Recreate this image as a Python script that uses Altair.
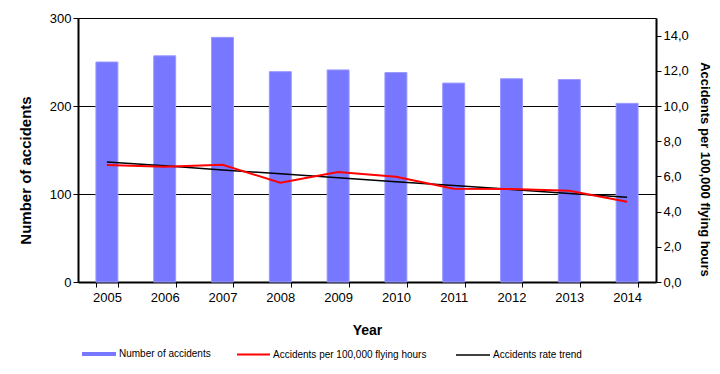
import altair as alt
import pandas as pd

years = ["2005", "2006", "2007", "2008", "2009", "2010", "2011", "2012", "2013", "2014"]
accidents = [250, 257, 278, 239, 241, 238, 226, 231, 230, 203]
rate = [6.65, 6.55, 6.66, 5.64, 6.25, 5.98, 5.30, 5.28, 5.19, 4.56]
trend = [6.82, 6.60, 6.37, 6.15, 5.93, 5.70, 5.48, 5.26, 5.03, 4.81]

df = pd.DataFrame({"year": years, "accidents": accidents, "rate": rate, "trend": trend})

FONT = "Liberation Sans"

x_enc = alt.X(
    "year:O",
    scale=alt.Scale(paddingInner=0.62, paddingOuter=0.31),
    axis=alt.Axis(
        title="Year", labelAngle=0, tickBand="extent", labelFontSize=13,
        labelFont=FONT, labelColor="black", tickColor="black", tickSize=5,
        domainColor="black", domainWidth=2, labelPadding=4,
        titleFont=FONT, titleFontSize=14, titleFontWeight="bold", titleColor="black",
        titleX=289, titleY=48, titleBaseline="middle",
    ),
)

right_axis = alt.Axis(
    orient="right", title="Accidents per 100,000 flying hours",
    values=[0, 2, 4, 6, 8, 10, 12, 14], grid=False,
    labelExpr="replace(format(datum.value, '.1f'), '.', ',')",
    labelFont=FONT, labelFontSize=13, labelColor="black",
    tickColor="black", tickSize=5, domainColor="black", domainWidth=2,
    titleFont=FONT, titleFontSize=13, titleFontWeight="bold", titleColor="black",
    titleX=48, titleY=151, titleBaseline="middle", titleAngle=90,
)

bars = alt.Chart(df).transform_calculate(series="'Number of accidents'").mark_bar(
    stroke="#9a9aff", strokeWidth=1
).encode(
    x=x_enc,
    y=alt.Y(
        "accidents:Q",
        scale=alt.Scale(domain=[0, 300]),
        axis=alt.Axis(
            title="Number of accidents", values=[0, 100, 200, 300], grid=True,
            gridColor="black", gridWidth=1, gridOpacity=1,
            labelFont=FONT, labelFontSize=13, labelColor="black",
            tickColor="black", tickSize=5, domainColor="black", domainWidth=2,
            titleFont=FONT, titleFontSize=15, titleFontWeight="bold", titleColor="black",
            titleX=-53, titleY=152, titleBaseline="middle", titleAngle=-90,
        ),
    ),
    color=alt.Color(
        "series:N", title=None,
        scale=alt.Scale(range=["#7777ff"]),
        legend=alt.Legend(
            orient="none", legendX=4, legendY=319, direction="horizontal",
            symbolType="M-1,-0.12L1,-0.12L1,0.12L-1,0.12Z", symbolSize=1156,
            symbolStrokeWidth=0, labelFont=FONT, labelFontSize=10, labelColor="black",
            labelOffset=3, padding=0,
        ),
    ),
)

trend_line = alt.Chart(df).transform_calculate(series="'Accidents rate trend'").mark_line(
    strokeWidth=1.5
).encode(
    x=x_enc,
    y=alt.Y("trend:Q", scale=alt.Scale(domain=[0, 15]), axis=right_axis),
    color=alt.Color(
        "series:N", title=None,
        scale=alt.Scale(range=["#000000"]),
        legend=alt.Legend(
            orient="none", legendX=377, legendY=319, direction="horizontal",
            symbolType="stroke", symbolSize=1156, symbolStrokeWidth=1.5,
            labelFont=FONT, labelFontSize=10, labelColor="black", labelOffset=2, padding=0,
        ),
    ),
)

rate_line = alt.Chart(df).transform_calculate(series="'Accidents per 100,000 flying hours'").mark_line(
    strokeWidth=2
).encode(
    x=x_enc,
    y=alt.Y("rate:Q", scale=alt.Scale(domain=[0, 15]), axis=right_axis),
    color=alt.Color(
        "series:N", title=None,
        scale=alt.Scale(range=["#ff0000"]),
        legend=alt.Legend(
            orient="none", legendX=158, legendY=319, direction="horizontal",
            symbolType="stroke", symbolSize=1089, symbolStrokeWidth=2,
            labelFont=FONT, labelFontSize=10, labelColor="black", labelOffset=2, padding=0,
        ),
    ),
)

lines = alt.layer(trend_line, rate_line).resolve_scale(color="independent")

chart = alt.layer(bars, lines).resolve_scale(
    y="independent", color="independent"
).properties(
    width=578, height=264,
    autosize=alt.AutoSizeParams(type="none"),
    padding={"left": 70, "top": 10, "right": 56, "bottom": 84},
).configure_view(strokeWidth=0).configure(background="white")

chart.save("out.html", embed_options={"renderer": "svg", "actions": False})
